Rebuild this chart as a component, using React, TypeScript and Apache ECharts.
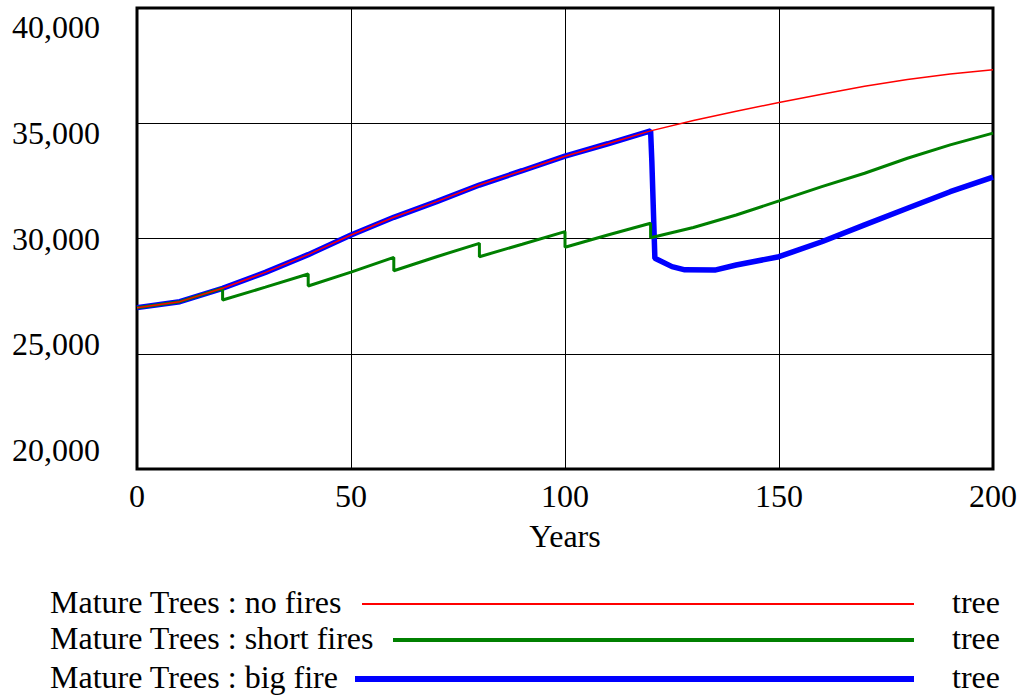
import React, { useEffect, useRef } from "react";
import * as echarts from "echarts";

const noFiresYears = [0, 10, 20, 30, 40, 50, 60, 70, 80, 90, 100, 110, 120, 130, 140, 150, 160, 170, 180, 190, 200];
const noFiresValues = [27000, 27260, 27840, 28530, 29300, 30150, 30920, 31600, 32320, 32940, 33570, 34110, 34670, 35120, 35520, 35900, 36260, 36610, 36900, 37140, 37320];

const shortFiresYears = [0, 10, 20, 20, 30, 40, 40, 50, 60, 60, 70, 80, 80, 90, 100, 100, 110, 120, 120, 130, 140, 150, 160, 170, 180, 190, 200];
const shortFiresValues = [27000, 27260, 27840, 27330, 27890, 28460, 27940, 28540, 29180, 28600, 29210, 29790, 29210, 29750, 30300, 29620, 30150, 30660, 30030, 30480, 31020, 31630, 32250, 32830, 33480, 34060, 34570];

const bigFireYears = [0, 10, 20, 30, 40, 50, 60, 70, 80, 90, 100, 110, 120, 120.3, 121, 125, 128, 135, 140, 150, 160, 170, 180, 190, 200];
const bigFireValues = [27000, 27260, 27840, 28530, 29300, 30150, 30920, 31600, 32320, 32940, 33570, 34110, 34670, 33300, 29140, 28780, 28640, 28630, 28850, 29210, 29860, 30590, 31310, 32030, 32660];

const seriesNames = ["Mature Trees : no fires", "Mature Trees : short fires", "Mature Trees : big fire"];
const unitLabel = "tree";
const xTitle = "Years";

const FONT = "'Liberation Serif', 'Times New Roman', serif";
const FS = 32;

function pairs(xs: number[], ys: number[]) {
  return xs.map((x, i) => [x, ys[i]]);
}

export default function App() {
  const ref = useRef<HTMLDivElement>(null);
  useEffect(() => {
    if (!ref.current) return;
    const chart = echarts.init(ref.current, null, { renderer: "svg" });
    const yVals = [20000, 25000, 30000, 35000, 40000];
    const rich: Record<string, any> = {};
    yVals.forEach((v, i) => {
      const off = (v - 30000) * 0.0019;
      rich["p" + i] = {
        fontFamily: FONT,
        fontSize: FS,
        color: "#000",
        padding: off >= 0 ? [2 * off, 0, 0, 0] : [0, 0, -2 * off, 0],
      };
    });
    const legendRows = [
      { y: 604, x2: 914, x1: 362, color: "#ff0000", w: 2 },
      { y: 640, x2: 914, x1: 393, color: "#008000", w: 4 },
      { y: 679, x2: 914, x1: 355, color: "#0000ff", w: 6 },
    ];
    const graphic: any[] = [];
    legendRows.forEach((r, i) => {
      graphic.push({
        type: "text",
        left: 50,
        top: r.y - 18,
        style: { text: seriesNames[i], font: `${FS}px ${FONT}`, fill: "#000" },
      });
      graphic.push({
        type: "line",
        shape: { x1: r.x1, y1: r.y, x2: r.x2, y2: r.y },
        style: { stroke: r.color, lineWidth: r.w },
      });
      graphic.push({
        type: "text",
        left: 952,
        top: r.y - 18,
        style: { text: unitLabel, font: `${FS}px ${FONT}`, fill: "#000" },
      });
    });
    chart.setOption({
      animation: false,
      backgroundColor: "#fff",
      textStyle: { fontFamily: FONT },
      grid: {
        left: 137,
        top: 8,
        right: 29,
        bottom: 227,
        show: true,
        borderColor: "#000",
        borderWidth: 3,
      },
      xAxis: {
        type: "value",
        min: 0,
        max: 200,
        interval: 50,
        name: xTitle,
        nameLocation: "middle",
        nameGap: 51,
        nameTextStyle: { fontFamily: FONT, fontSize: FS, color: "#000" },
        axisLine: { show: false },
        axisTick: { show: false },
        axisLabel: { fontFamily: FONT, fontSize: FS, color: "#000", margin: 11 },
        splitLine: { show: true, lineStyle: { color: "#000", width: 1 } },
      },
      yAxis: {
        type: "value",
        min: 20000,
        max: 40000,
        interval: 5000,
        axisLine: { show: false },
        axisTick: { show: false },
        axisLabel: {
          margin: 37,
          formatter: (v: number) => {
            const i = yVals.indexOf(v);
            return `{p${i}|${v.toLocaleString("en-US")}}`;
          },
          rich,
        },
        splitLine: { show: true, lineStyle: { color: "#000", width: 1 } },
      },
      series: [
        {
          type: "line",
          name: seriesNames[2],
          data: pairs(bigFireYears, bigFireValues),
          showSymbol: false,
          lineStyle: { color: "#0000ff", width: 5.5 },
          z: 2,
        },
        {
          type: "line",
          name: seriesNames[1],
          data: pairs(shortFiresYears, shortFiresValues),
          showSymbol: false,
          lineStyle: { color: "#008000", width: 3 },
          z: 3,
        },
        {
          type: "line",
          name: seriesNames[0],
          data: pairs(noFiresYears, noFiresValues),
          showSymbol: false,
          lineStyle: { color: "#ff0000", width: 1.5 },
          z: 4,
        },
      ],
      graphic,
    });
    return () => chart.dispose();
  }, []);
  return (
    <div
      ref={ref}
      style={{ position: "fixed", left: 0, top: 0, width: 1022, height: 696 }}
    />
  );
}
